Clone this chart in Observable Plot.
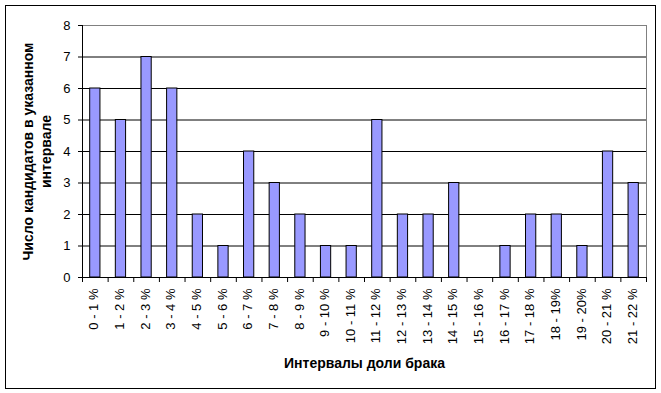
<!DOCTYPE html>
<html>
<head>
<meta charset="utf-8">
<script src="https://cdn.jsdelivr.net/npm/d3@7"></script>
<script src="https://cdn.jsdelivr.net/npm/@observablehq/plot@0.6"></script>
<style>
  html, body { margin: 0; padding: 0; background: #fff; }
  #wrap { position: relative; width: 661px; height: 393px; }
  #border { position: absolute; left: 5px; top: 5px; width: 651px; height: 384px; box-sizing: border-box; border: 1px solid #000; pointer-events: none; }
  svg { display: block; }
</style>
</head>
<body>
<div id="wrap"><div id="border"></div></div>
<script>
const categories = ["0 - 1 %","1 - 2 %","2 - 3 %","3 - 4 %","4 - 5 %","5 - 6 %","6 - 7 %","7 - 8 %","8 - 9 %","9 - 10 %","10 - 11 %","11 - 12 %","12 - 13 %","13 - 14 %","14 - 15 %","15 - 16 %","16 - 17 %","17 - 18 %","18 - 19%","19 - 20%","20 - 21 %","21 - 22 %"];
const counts = [6,5,7,6,2,1,4,3,2,1,1,5,2,2,3,0,1,2,2,1,4,3];
const yTicks = [0,1,2,3,4,5,6,7,8];
const gridValues = [1,2,3,4,5,6,7];
const yTitle = "Число кандидатов в указанном\nинтервале";
const xTitle = "Интервалы доли брака";

const data = categories.map((c, i) => ({cat: c, value: counts[i]}));

const W = 661, H = 393, mL = 82, mR = 15, mT = 25, mB = 116;
const step = (W - mL - mR) / categories.length;
const font = "'Liberation Sans', Arial, sans-serif";

const chart = Plot.plot({
  width: W, height: H,
  marginLeft: mL, marginRight: mR, marginTop: mT, marginBottom: mB,
  style: {fontFamily: font, fontSize: "13px", color: "#000", background: "#fff"},
  x: {domain: categories, paddingInner: 0.6, paddingOuter: 0.3, round: false, label: null},
  y: {domain: [0, 8], label: null},
  marks: [
    Plot.frame({stroke: "#808080"}),
    Plot.gridY(gridValues, {stroke: "#000", strokeOpacity: 1}),
    Plot.barY(data, {x: "cat", y: "value", fill: "#9999FF", stroke: "#000", strokeWidth: 1}),
    Plot.frame({anchor: "left", stroke: "#000"}),
    Plot.frame({anchor: "bottom", stroke: "#000"}),
    Plot.axisY({ticks: yTicks, tickSize: 4, tickPadding: 8, fontSize: 13, label: null, stroke: "#000"}),
    Plot.axisX({tickSize: 5, tickFormat: () => "", dx: -step / 2, label: null, stroke: "#000"}),
    Plot.axisX({ticks: [categories[categories.length - 1]], tickSize: 5, tickFormat: () => "", dx: step / 2, label: null, stroke: "#000"}),
    Plot.axisX({tickSize: 0, tickRotate: -90, tickPadding: 11, fontSize: 13, dx: -1, label: null}),
    Plot.text([xTitle], {frameAnchor: "bottom", lineAnchor: "middle", dy: 86, fontWeight: "bold", fontSize: 14, letterSpacing: "0.6px"}),
    Plot.text([yTitle], {frameAnchor: "left", rotate: -90, textAnchor: "middle", lineAnchor: "middle", lineHeight: 1.3, dx: -46, fontWeight: "bold", fontSize: 14, letterSpacing: "0.2px"})
  ]
});
document.getElementById("wrap").prepend(chart);
</script>
</body>
</html>
